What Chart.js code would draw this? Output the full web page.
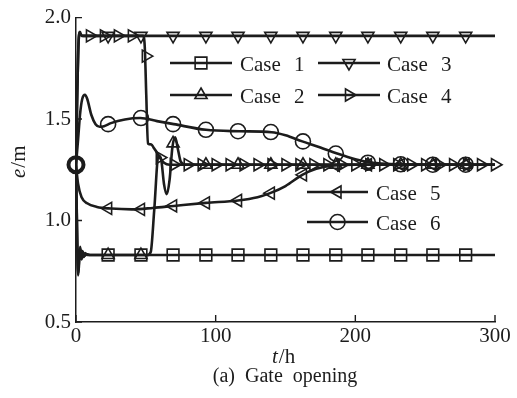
<!DOCTYPE html>
<html>
<head>
<meta charset="utf-8">
<title>Gate opening</title>
<script src="https://cdn.jsdelivr.net/npm/chart.js@4.4.1/dist/chart.umd.min.js"></script>
<style>
  html, body { margin: 0; padding: 0; background: #fff; }
  #wrap { width: 517px; height: 398px; }
</style>
</head>
<body>
<div id="wrap"><canvas id="gateChart" width="517" height="398"></canvas></div>
<script>
/* ---------- values ---------- */
const caseNames = ['Case 1', 'Case 2', 'Case 3', 'Case 4', 'Case 5', 'Case 6'];
const xTicks = [0, 100, 200, 300];
const yTicks = [0.5, 1.0, 1.5, 2.0];

// curves: t (h) and e (m)
const case1T = [0, 0.8, 1.5, 2.3, 3, 3.8, 4.6, 5.5, 6.5, 8, 10, 300];
const case1E = [1.275, 0.95, 0.73, 0.80, 0.87, 0.81, 0.85, 0.82, 0.84, 0.83, 0.83, 0.83];

const case2T = [0, 0.8, 1.6, 2.4, 3.2, 4, 5, 6, 7.5, 10, 51, 53.5, 56, 59, 61, 63, 65, 67, 69, 71, 73, 75, 78, 300];
const case2E = [1.275, 0.92, 0.74, 0.84, 0.86, 0.81, 0.845, 0.825, 0.835, 0.83, 0.83, 0.845, 1.05, 1.32, 1.30, 1.18, 1.13, 1.20, 1.36, 1.41, 1.35, 1.29, 1.276, 1.275];

const case3T = [0, 0.8, 1.6, 2.5, 3.5, 5, 300];
const case3E = [1.275, 1.60, 1.84, 1.925, 1.915, 1.91, 1.91];

const case4T = [0, 0.9, 1.8, 2.8, 4, 48, 49.2, 50.3, 51.5, 54, 55.5, 57, 60, 63, 67, 300];
const case4E = [1.275, 1.62, 1.87, 1.93, 1.91, 1.91, 1.86, 1.62, 1.38, 1.375, 1.36, 1.345, 1.31, 1.285, 1.275, 1.275];

const case5T = [0, 1.5, 4, 8, 15, 25, 40, 55, 70, 93, 116, 130, 139, 150, 162, 172, 185, 200, 300];
const case5E = [1.275, 1.18, 1.115, 1.085, 1.067, 1.059, 1.055, 1.062, 1.072, 1.087, 1.099, 1.115, 1.135, 1.17, 1.225, 1.255, 1.272, 1.275, 1.275];

const case6T = [0, 1.5, 3, 4.5, 6.4, 8, 11, 14, 17, 20, 25, 35, 46, 58, 70, 93, 117, 140, 150, 162, 175, 187, 200, 210, 222, 235, 300];
const case6E = [1.275, 1.40, 1.53, 1.60, 1.62, 1.60, 1.52, 1.475, 1.462, 1.465, 1.48, 1.498, 1.505, 1.49, 1.475, 1.447, 1.44, 1.435, 1.42, 1.39, 1.36, 1.33, 1.302, 1.287, 1.279, 1.276, 1.275];

// markers
const markT = [23, 46.5, 69.5, 93, 116, 139.5, 162.5, 186, 209, 232.5, 255.5, 279];
const mark1E = [0.83, 0.83, 0.83, 0.83, 0.83, 0.83, 0.83, 0.83, 0.83, 0.83, 0.83, 0.83];
const mark2E = [0.83, 0.83, 1.38, 1.275, 1.275, 1.275, 1.275, 1.275, 1.275, 1.275, 1.275, 1.275];
const mark3E = [1.91, 1.91, 1.91, 1.91, 1.91, 1.91, 1.91, 1.91, 1.91, 1.91, 1.91, 1.91];
const mark4T = [10, 20, 30, 40, 50, 60, 70, 80, 90, 100, 110, 120, 130, 140, 150, 160, 170, 180, 190, 200, 210, 220, 230, 240, 250, 260, 270, 280, 290, 300];
const mark4E = [1.91, 1.91, 1.91, 1.91, 1.81, 1.31, 1.275, 1.275, 1.275, 1.275, 1.275, 1.275, 1.275, 1.275, 1.275, 1.275, 1.275, 1.275, 1.275, 1.275, 1.275, 1.275, 1.275, 1.275, 1.275, 1.275, 1.275, 1.275, 1.275, 1.275];
const mark5E = [1.06, 1.055, 1.072, 1.087, 1.099, 1.135, 1.225, 1.272, 1.275, 1.275, 1.275, 1.275];
const mark6T = [0, 23, 46.5, 69.5, 93, 116, 139.5, 162.5, 186, 209, 232.5, 255.5, 279];
const mark6E = [1.275, 1.475, 1.505, 1.475, 1.447, 1.44, 1.436, 1.39, 1.33, 1.285, 1.277, 1.275, 1.275];

/* ---------- styling ---------- */
const INK = '#1c1c1c';
const SERIF = "'Liberation Serif', 'DejaVu Serif', serif";

const styles = [
  { pointStyle: 'rect',     rotation: 0,   radius: 8.3 },
  { pointStyle: 'triangle', rotation: 0,   radius: 7 },
  { pointStyle: 'triangle', rotation: 180, radius: 7 },
  { pointStyle: 'triangle', rotation: 90,  radius: 7 },
  { pointStyle: 'triangle', rotation: 270, radius: 7 },
  { pointStyle: 'circle',   rotation: 0,   radius: 7.5 }
];

function pts(ts, es) {
  return ts.map((t, i) => ({ x: t, y: es[i] }));
}

function lineSet(ts, es) {
  return {
    data: pts(ts, es),
    showLine: true,
    pointRadius: 0,
    borderColor: INK,
    borderWidth: 2.6,
    cubicInterpolationMode: 'monotone'
  };
}

function markSet(ts, es, k, widths) {
  const s = styles[k];
  return {
    data: pts(ts, es),
    showLine: false,
    clip: false,
    pointStyle: s.pointStyle,
    pointRotation: s.rotation,
    pointRadius: s.radius,
    pointBorderWidth: widths || 1.6,
    pointBorderColor: INK,
    pointBackgroundColor: 'rgba(0,0,0,0)'
  };
}

/* ---------- extra drawing: inward ticks, titles, legends ---------- */
const decorations = {
  id: 'decorations',
  afterDraw(chart) {
    const { ctx, scales: { x, y } } = chart;
    ctx.save();

    // inward tick marks
    ctx.strokeStyle = INK;
    ctx.lineWidth = 1.4;
    ctx.beginPath();
    xTicks.forEach(v => {
      const px = x.getPixelForValue(v);
      ctx.moveTo(px, y.bottom);
      ctx.lineTo(px, y.bottom - 7);
    });
    yTicks.forEach(v => {
      const py = y.getPixelForValue(v);
      ctx.moveTo(x.left, py);
      ctx.lineTo(x.left + 6, py);
    });
    ctx.stroke();

    ctx.fillStyle = INK;
    ctx.textBaseline = 'alphabetic';
    ctx.textAlign = 'left';

    // x axis title: t/h
    ctx.font = 'italic 21px ' + SERIF;
    ctx.fillText('t', 272, 363);
    let w = ctx.measureText('t').width;
    ctx.font = '21px ' + SERIF;
    ctx.fillText('/h', 272 + w + 1, 363);

    // y axis title: e/m
    ctx.save();
    ctx.translate(25, 178);
    ctx.rotate(-Math.PI / 2);
    ctx.font = 'italic 21px ' + SERIF;
    ctx.fillText('e', 0, 0);
    w = ctx.measureText('e').width;
    ctx.font = '21px ' + SERIF;
    ctx.fillText('/m', w + 1, 0);
    ctx.restore();

    // caption
    ctx.font = '20px ' + SERIF;
    ctx.wordSpacing = '5px';
    ctx.textAlign = 'center';
    ctx.fillText('(a) Gate opening', 285, 382);

    // legends
    const entries = [
      { k: 0, x1: 170, x2: 232, y: 63, tx: 240 },
      { k: 2, x1: 318, x2: 380, y: 63, tx: 387 },
      { k: 1, x1: 170, x2: 232, y: 95, tx: 240 },
      { k: 3, x1: 318, x2: 380, y: 95, tx: 387 },
      { k: 4, x1: 307, x2: 368, y: 192, tx: 376 },
      { k: 5, x1: 307, x2: 368, y: 222, tx: 376 }
    ];
    ctx.font = '21px ' + SERIF;
    ctx.wordSpacing = '8px';
    ctx.textAlign = 'left';
    entries.forEach(e => {
      const s = styles[e.k];
      ctx.strokeStyle = INK;
      ctx.lineWidth = 2.4;
      ctx.beginPath();
      ctx.moveTo(e.x1, e.y);
      ctx.lineTo(e.x2, e.y);
      ctx.stroke();
      ctx.lineWidth = 1.6;
      ctx.fillStyle = 'rgba(0,0,0,0)';
      Chart.helpers.drawPoint(ctx, {
        pointStyle: s.pointStyle,
        rotation: s.rotation,
        radius: s.radius,
        borderWidth: 1.6
      }, (e.x1 + e.x2) / 2, e.y);
      ctx.fillStyle = INK;
      ctx.fillText(caseNames[e.k], e.tx, e.y + 8);
    });

    ctx.restore();
  }
};

/* ---------- chart ---------- */
const ctx = document.getElementById('gateChart');

new Chart(ctx, {
  type: 'scatter',
  data: {
    datasets: [
      lineSet(case1T, case1E),
      lineSet(case2T, case2E),
      lineSet(case3T, case3E),
      lineSet(case4T, case4E),
      lineSet(case5T, case5E),
      lineSet(case6T, case6E),
      markSet(markT, mark1E, 0),
      markSet(markT, mark2E, 1),
      markSet(markT, mark3E, 2),
      markSet(mark4T, mark4E, 3),
      markSet(markT, mark5E, 4),
      markSet(mark6T, mark6E, 5, mark6T.map(t => (t === 0 ? 4 : 1.6)))
    ]
  },
  options: {
    responsive: false,
    animation: false,
    devicePixelRatio: 1,
    layout: { padding: { top: 16, right: 22, bottom: 0, left: 0 } },
    plugins: {
      legend: { display: false },
      tooltip: { enabled: false }
    },
    scales: {
      x: {
        type: 'linear',
        min: 0,
        max: 300,
        afterBuildTicks: s => { s.ticks = xTicks.map(v => ({ value: v })); },
        afterFit: s => { s.height = 76; },
        ticks: { color: INK, font: { family: SERIF, size: 21 }, padding: 2, maxRotation: 0 },
        grid: { display: false, drawTicks: false },
        border: { display: true, color: INK, width: 1.5 }
      },
      y: {
        min: 0.5,
        max: 2.0,
        afterBuildTicks: s => { s.ticks = yTicks.map(v => ({ value: v })); },
        afterFit: s => { s.width = 76; },
        ticks: {
          color: INK,
          font: { family: SERIF, size: 21 },
          padding: 5,
          callback: v => v.toFixed(1)
        },
        grid: { display: false, drawTicks: false },
        border: { display: true, color: INK, width: 1.5 }
      }
    }
  },
  plugins: [decorations]
});
</script>
</body>
</html>
